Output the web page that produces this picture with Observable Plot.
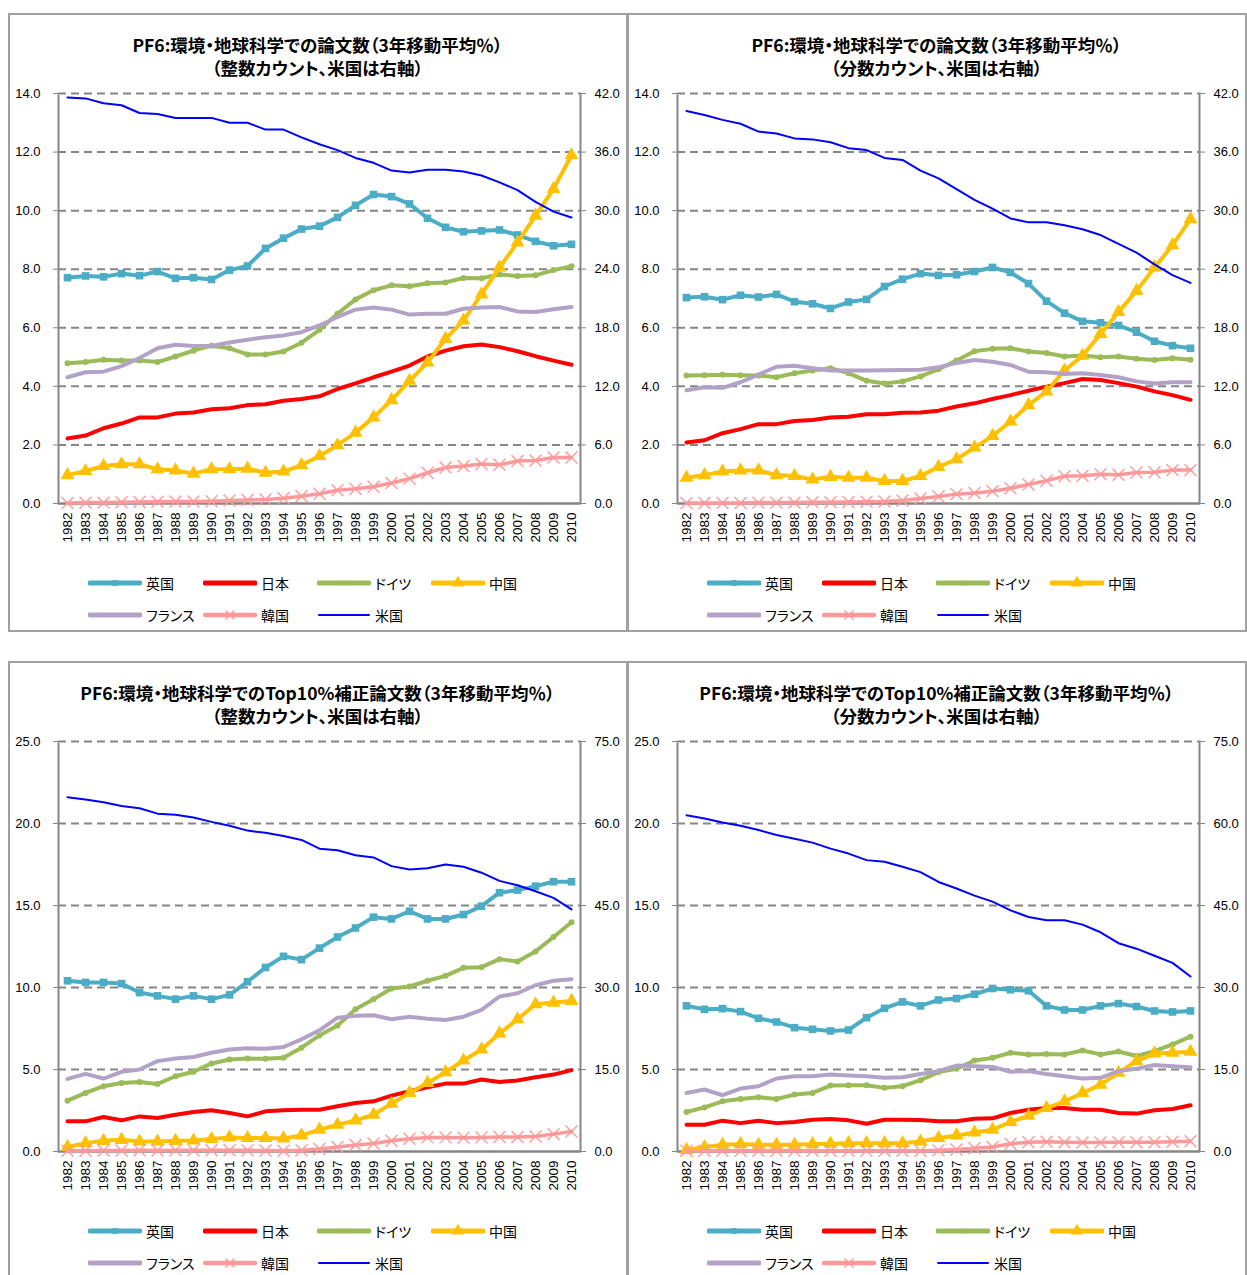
<!DOCTYPE html>
<html><head><meta charset="utf-8">
<script src="https://cdn.jsdelivr.net/npm/d3@7"></script>
<script src="https://cdn.jsdelivr.net/npm/@observablehq/plot@0.6"></script>
<style>
body{margin:0;background:#fff;}
#root{position:relative;width:1247px;height:1275px;overflow:hidden;font-family:"Noto Sans CJK JP",sans-serif;background:#fff;}
.panel{position:absolute;box-sizing:border-box;border:2px solid #a0a0a0;}
.title{position:absolute;text-align:center;font-weight:bold;font-size:17.5px;line-height:23px;color:#000;white-space:nowrap;font-feature-settings:"palt";}
.leg{position:absolute;display:flex;align-items:center;font-size:14px;color:#000;white-space:nowrap;height:18px;font-feature-settings:"palt";}
.leg svg{margin-right:4px;}
</style></head>
<body><div id="root"></div>
<script>
const years = [1982,1983,1984,1985,1986,1987,1988,1989,1990,1991,1992,1993,1994,1995,1996,1997,1998,1999,2000,2001,2002,2003,2004,2005,2006,2007,2008,2009,2010];

// Panel A: 論文数（整数カウント）
const A_UK = [7.71,7.77,7.74,7.85,7.78,7.92,7.69,7.71,7.65,7.97,8.11,8.71,9.06,9.37,9.47,9.77,10.18,10.55,10.48,10.23,9.74,9.43,9.28,9.31,9.34,9.17,8.95,8.80,8.85];
const A_JP = [2.22,2.32,2.57,2.73,2.94,2.94,3.07,3.11,3.22,3.25,3.36,3.39,3.51,3.57,3.66,3.91,4.10,4.31,4.50,4.71,5.02,5.22,5.37,5.43,5.34,5.20,5.03,4.88,4.74];
const A_DE = [4.79,4.83,4.91,4.88,4.88,4.83,5.02,5.22,5.39,5.30,5.09,5.09,5.19,5.49,5.93,6.48,6.97,7.28,7.45,7.42,7.52,7.55,7.70,7.69,7.82,7.77,7.79,7.97,8.10];
const A_CN = [0.97,1.11,1.28,1.34,1.34,1.17,1.13,1.02,1.17,1.17,1.19,1.05,1.09,1.31,1.62,1.99,2.42,2.94,3.53,4.19,4.82,5.62,6.25,7.14,8.06,8.91,9.83,10.74,11.89];
const A_FR = [4.31,4.48,4.50,4.69,4.97,5.30,5.42,5.38,5.38,5.50,5.59,5.68,5.74,5.85,6.08,6.37,6.62,6.69,6.62,6.45,6.48,6.48,6.65,6.69,6.71,6.56,6.54,6.63,6.71];
const A_KR = [0.02,0.03,0.03,0.04,0.05,0.06,0.07,0.07,0.08,0.10,0.12,0.14,0.18,0.25,0.33,0.45,0.50,0.57,0.70,0.85,1.05,1.23,1.28,1.35,1.32,1.45,1.47,1.57,1.57];
const A_US = [41.6,41.5,41.0,40.8,40.0,39.9,39.5,39.5,39.5,39.0,39.0,38.3,38.3,37.5,36.8,36.2,35.4,34.9,34.1,33.9,34.2,34.2,34.0,33.6,32.9,32.1,30.9,29.9,29.3];

// Panel B: 論文数（分数カウント）
const B_UK = [7.03,7.06,6.96,7.11,7.05,7.14,6.89,6.82,6.66,6.88,6.97,7.41,7.66,7.85,7.79,7.81,7.92,8.06,7.89,7.51,6.91,6.50,6.22,6.17,6.08,5.85,5.54,5.39,5.30];
const B_JP = [2.08,2.16,2.40,2.54,2.71,2.71,2.82,2.85,2.94,2.96,3.05,3.05,3.10,3.11,3.17,3.31,3.42,3.57,3.70,3.85,3.99,4.11,4.25,4.22,4.11,3.99,3.83,3.70,3.54];
const B_DE = [4.37,4.38,4.40,4.38,4.37,4.31,4.45,4.54,4.62,4.45,4.19,4.10,4.17,4.34,4.59,4.88,5.20,5.28,5.30,5.19,5.14,5.02,5.05,4.99,5.02,4.94,4.90,4.96,4.91];
const B_CN = [0.88,0.97,1.09,1.13,1.13,0.97,0.94,0.82,0.91,0.88,0.88,0.77,0.77,0.94,1.25,1.51,1.91,2.31,2.80,3.36,3.83,4.54,5.05,5.79,6.54,7.26,8.06,8.82,9.71];
const B_FR = [3.87,3.97,3.95,4.14,4.40,4.67,4.70,4.62,4.54,4.54,4.54,4.55,4.56,4.57,4.65,4.80,4.90,4.84,4.73,4.50,4.48,4.42,4.45,4.39,4.31,4.17,4.10,4.14,4.14];
const B_KR = [0.02,0.02,0.02,0.02,0.03,0.03,0.03,0.04,0.04,0.05,0.06,0.07,0.10,0.17,0.24,0.32,0.36,0.42,0.52,0.65,0.78,0.93,0.95,1.00,0.98,1.06,1.07,1.14,1.14];
const B_US = [40.2,39.8,39.3,38.9,38.1,37.9,37.4,37.3,37.0,36.4,36.2,35.4,35.2,34.1,33.3,32.2,31.1,30.2,29.2,28.8,28.8,28.5,28.1,27.5,26.6,25.7,24.5,23.4,22.6];

// Panel C: Top10%補正論文数（整数カウント）
const C_UK = [10.41,10.31,10.31,10.24,9.69,9.49,9.29,9.49,9.29,9.55,10.35,11.22,11.90,11.70,12.40,13.08,13.63,14.29,14.18,14.65,14.18,14.18,14.45,14.96,15.78,15.94,16.18,16.45,16.45];
const C_JP = [1.84,1.84,2.10,1.90,2.14,2.04,2.24,2.41,2.51,2.35,2.14,2.45,2.51,2.55,2.55,2.76,2.96,3.06,3.41,3.67,3.92,4.14,4.14,4.39,4.24,4.33,4.53,4.69,4.96];
const C_DE = [3.10,3.57,3.98,4.18,4.24,4.12,4.59,4.86,5.37,5.61,5.67,5.65,5.71,6.33,7.08,7.69,8.67,9.29,9.94,10.06,10.41,10.71,11.20,11.24,11.73,11.59,12.20,13.08,13.98];
const C_CN = [0.27,0.51,0.65,0.71,0.61,0.61,0.65,0.67,0.76,0.86,0.82,0.82,0.80,0.98,1.33,1.63,1.90,2.24,2.92,3.57,4.18,4.84,5.55,6.22,7.20,8.06,8.98,9.08,9.18];
const C_FR = [4.43,4.73,4.45,4.86,5.00,5.51,5.67,5.76,6.02,6.22,6.29,6.27,6.37,6.84,7.39,8.16,8.27,8.31,8.06,8.22,8.10,8.02,8.22,8.63,9.45,9.65,10.14,10.41,10.51];
const C_KR = [0.05,0.05,0.06,0.06,0.07,0.06,0.08,0.08,0.08,0.08,0.07,0.06,0.05,0.08,0.15,0.28,0.40,0.49,0.65,0.78,0.86,0.86,0.84,0.86,0.88,0.88,0.92,1.06,1.22];
const C_US = [64.8,64.4,63.9,63.2,62.8,61.8,61.6,61.1,60.3,59.6,58.7,58.3,57.7,57.0,55.4,55.1,54.2,53.8,52.2,51.6,51.8,52.5,52.1,51.0,49.5,48.7,47.6,46.4,44.3];

// Panel D: Top10%補正論文数（分数カウント）
const D_UK = [8.88,8.67,8.71,8.53,8.12,7.90,7.55,7.45,7.35,7.41,8.16,8.73,9.12,8.88,9.24,9.33,9.59,9.94,9.86,9.80,8.88,8.63,8.63,8.88,9.02,8.84,8.57,8.51,8.57];
const D_JP = [1.63,1.63,1.88,1.73,1.88,1.73,1.80,1.94,1.98,1.90,1.69,1.94,1.94,1.92,1.84,1.84,2.00,2.02,2.35,2.55,2.65,2.65,2.55,2.55,2.35,2.31,2.51,2.59,2.82];
const D_DE = [2.41,2.69,3.06,3.20,3.31,3.20,3.47,3.57,4.02,4.04,4.04,3.88,3.98,4.35,4.84,5.04,5.55,5.71,6.02,5.92,5.94,5.92,6.16,5.92,6.10,5.82,6.12,6.53,7.00];
const D_CN = [0.10,0.27,0.41,0.45,0.41,0.41,0.41,0.45,0.47,0.51,0.51,0.51,0.51,0.61,0.82,0.98,1.16,1.33,1.80,2.18,2.65,3.06,3.57,4.08,4.80,5.51,5.98,6.02,6.08];
const D_FR = [3.57,3.78,3.43,3.84,3.98,4.45,4.59,4.59,4.69,4.63,4.59,4.49,4.53,4.73,4.90,5.24,5.20,5.16,4.86,4.90,4.73,4.59,4.45,4.49,4.90,5.04,5.27,5.20,5.14];
const D_KR = [0.05,0.05,0.05,0.05,0.05,0.05,0.05,0.05,0.05,0.05,0.05,0.05,0.05,0.05,0.07,0.12,0.20,0.28,0.47,0.57,0.59,0.57,0.55,0.55,0.57,0.57,0.57,0.59,0.63];
const D_US = [61.5,60.9,60.2,59.6,58.8,57.9,57.2,56.5,55.4,54.5,53.3,53.0,52.1,51.1,49.3,48.1,46.8,45.7,44.1,42.9,42.3,42.3,41.5,40.1,38.1,37.1,35.8,34.5,32.0];

const countryNames = ["英国","日本","ドイツ","中国","フランス","韓国","米国"];
const countryKeys = ["UK","JP","DE","CN","FR","KR","US"];
const countryColors = ["#4bacc6","#ff0000","#9bbb59","#ffc000","#b3a2c7","#ff9999","#0000ff"];
const lineWidths = [4,4,4,4,4,3.5,2];
const symbols = ["square",null,"circle","triangle",null,"times",null];
const symbolR = [4.3,0,3,5.2,0,5.5,0];
const legendSymbolR = [3.2,0,2.6,4.6,0,4.2,0];

const leftTicksTop = [0,2,4,6,8,10,12,14];
const leftTicksBottom = [0,5,10,15,20,25];
const rightFactor = 3;

const panels = [
  {x0:8, y0:13, h:619, t1:"PF6:環境・地球科学での論文数（3年移動平均％）", t2:"（整数カウント、米国は右軸）", ticks:leftTicksTop,
   data:{UK:A_UK,JP:A_JP,DE:A_DE,CN:A_CN,FR:A_FR,KR:A_KR,US:A_US}},
  {x0:627, y0:13, h:619, t1:"PF6:環境・地球科学での論文数（3年移動平均％）", t2:"（分数カウント、米国は右軸）", ticks:leftTicksTop,
   data:{UK:B_UK,JP:B_JP,DE:B_DE,CN:B_CN,FR:B_FR,KR:B_KR,US:B_US}},
  {x0:8, y0:661, h:640, t1:"PF6:環境・地球科学でのTop10%補正論文数（3年移動平均％）", t2:"（整数カウント、米国は右軸）", ticks:leftTicksBottom,
   data:{UK:C_UK,JP:C_JP,DE:C_DE,CN:C_CN,FR:C_FR,KR:C_KR,US:C_US}},
  {x0:627, y0:661, h:640, t1:"PF6:環境・地球科学でのTop10%補正論文数（3年移動平均％）", t2:"（分数カウント、米国は右軸）", ticks:leftTicksBottom,
   data:{UK:D_UK,JP:D_JP,DE:D_DE,CN:D_CN,FR:D_FR,KR:D_KR,US:D_US}}
];

const root = document.getElementById("root");
const W = 619;
const GRAY = "#868686";

function addDiv(cls, left, top, html){
  const d = document.createElement("div");
  d.className = cls; d.style.left = left+"px"; d.style.top = top+"px";
  if (html !== undefined) d.innerHTML = html;
  root.appendChild(d); return d;
}

panels.forEach(p => {
  const b = addDiv("panel", p.x0, p.y0);
  b.style.width = (W+1)+"px"; b.style.height = p.h+"px";
  const t1 = addDiv("title", p.x0, p.y0+20, p.t1); t1.style.width = W+"px";
  const t2 = addDiv("title", p.x0, p.y0+43, p.t2); t2.style.width = W+"px";

  const ymax = p.ticks[p.ticks.length-1];
  const marks = [
    Plot.frame({stroke:GRAY, strokeWidth:2}),
    Plot.ruleY([ymax], {stroke:"#fff", strokeWidth:3}),
    Plot.gridY(p.ticks.filter(t => t > 0), {stroke:GRAY, strokeOpacity:1, strokeWidth:2, strokeDasharray:"8,5"}),
    Plot.ruleY([0], {stroke:GRAY, strokeWidth:2}),
    Plot.axisY(p.ticks, {anchor:"left", tickFormat:d => d.toFixed(1), tickSize:5, tickPadding:13, stroke:GRAY, fill:"#000", fontSize:13, label:null}),
    Plot.axisY(p.ticks, {anchor:"right", tickFormat:d => (d*rightFactor).toFixed(1), tickSize:5, tickPadding:9, stroke:GRAY, fill:"#000", fontSize:13, label:null}),
    Plot.axisX({tickRotate:-90, tickSize:0, tickPadding:9, tickFormat:d => String(d), fill:"#000", fontSize:13.5, label:null})
  ];
  countryKeys.forEach((k, i) => {
    const vals = p.data[k];
    const rows = years.map((y, j) => ({year:y, v: vals[j]}));
    const yf = k === "US" ? (d => d.v / rightFactor) : "v";
    marks.push(Plot.line(rows, {x:"year", y:yf, stroke:countryColors[i], strokeWidth:lineWidths[i], strokeLinejoin:"round", strokeLinecap:"round"}));
    if (symbols[i]) {
      if (symbols[i] === "times")
        marks.push(Plot.dot(rows, {x:"year", y:yf, symbol:"times", r:symbolR[i], stroke:countryColors[i], strokeWidth:1.4, fill:"none"}));
      else
        marks.push(Plot.dot(rows, {x:"year", y:yf, symbol:symbols[i], r:symbolR[i], fill:countryColors[i], stroke:"none"}));
    }
  });

  const svg = Plot.plot({
    width: W, height: 482,
    marginLeft: 50, marginRight: 47, marginTop: 12, marginBottom: 60,
    style: {fontFamily:"'Liberation Sans', Arial, sans-serif", fontSize:"13px", color:"#000", background:"transparent", overflow:"visible"},
    x: {type:"point", domain: years, padding:0.5, axis:null},
    y: {domain:[0, ymax], axis:null},
    marks
  });
  svg.style.position = "absolute";
  svg.style.left = p.x0 + "px";
  svg.style.top = (p.y0 + 68) + "px";
  root.appendChild(svg);

  // legend
  const cols = [80, 195, 309, 423];
  const layout = [[0,0],[1,0],[2,0],[3,0],[0,1],[1,1],[2,1]];
  countryKeys.forEach((k, i) => {
    const [c, r] = layout[i];
    const div = addDiv("leg", p.x0 + cols[c], p.y0 + 561 + r*32);
    const s = d3.create("svg").attr("width", 54).attr("height", 18);
    s.append("line").attr("x1",2).attr("x2",52).attr("y1",9).attr("y2",9)
      .attr("stroke", countryColors[i]).attr("stroke-width", Math.max(lineWidths[i], 2) + (i === 6 ? 0 : 1)).attr("stroke-linecap","round");
    const sym = symbols[i];
    if (sym) {
      const map = {square:d3.symbolSquare, circle:d3.symbolCircle, triangle:d3.symbolTriangle, times:d3.symbolTimes};
      const path = d3.symbol(map[sym], Math.PI*legendSymbolR[i]*legendSymbolR[i])();
      const el = s.append("path").attr("d", path).attr("transform","translate(27,9)");
      if (sym === "times") el.attr("fill","none").attr("stroke",countryColors[i]).attr("stroke-width",1.4);
      else el.attr("fill",countryColors[i]);
    }
    div.appendChild(s.node());
    const sp = document.createElement("span"); sp.textContent = countryNames[i];
    div.appendChild(sp);
  });
});
</script></body></html>
